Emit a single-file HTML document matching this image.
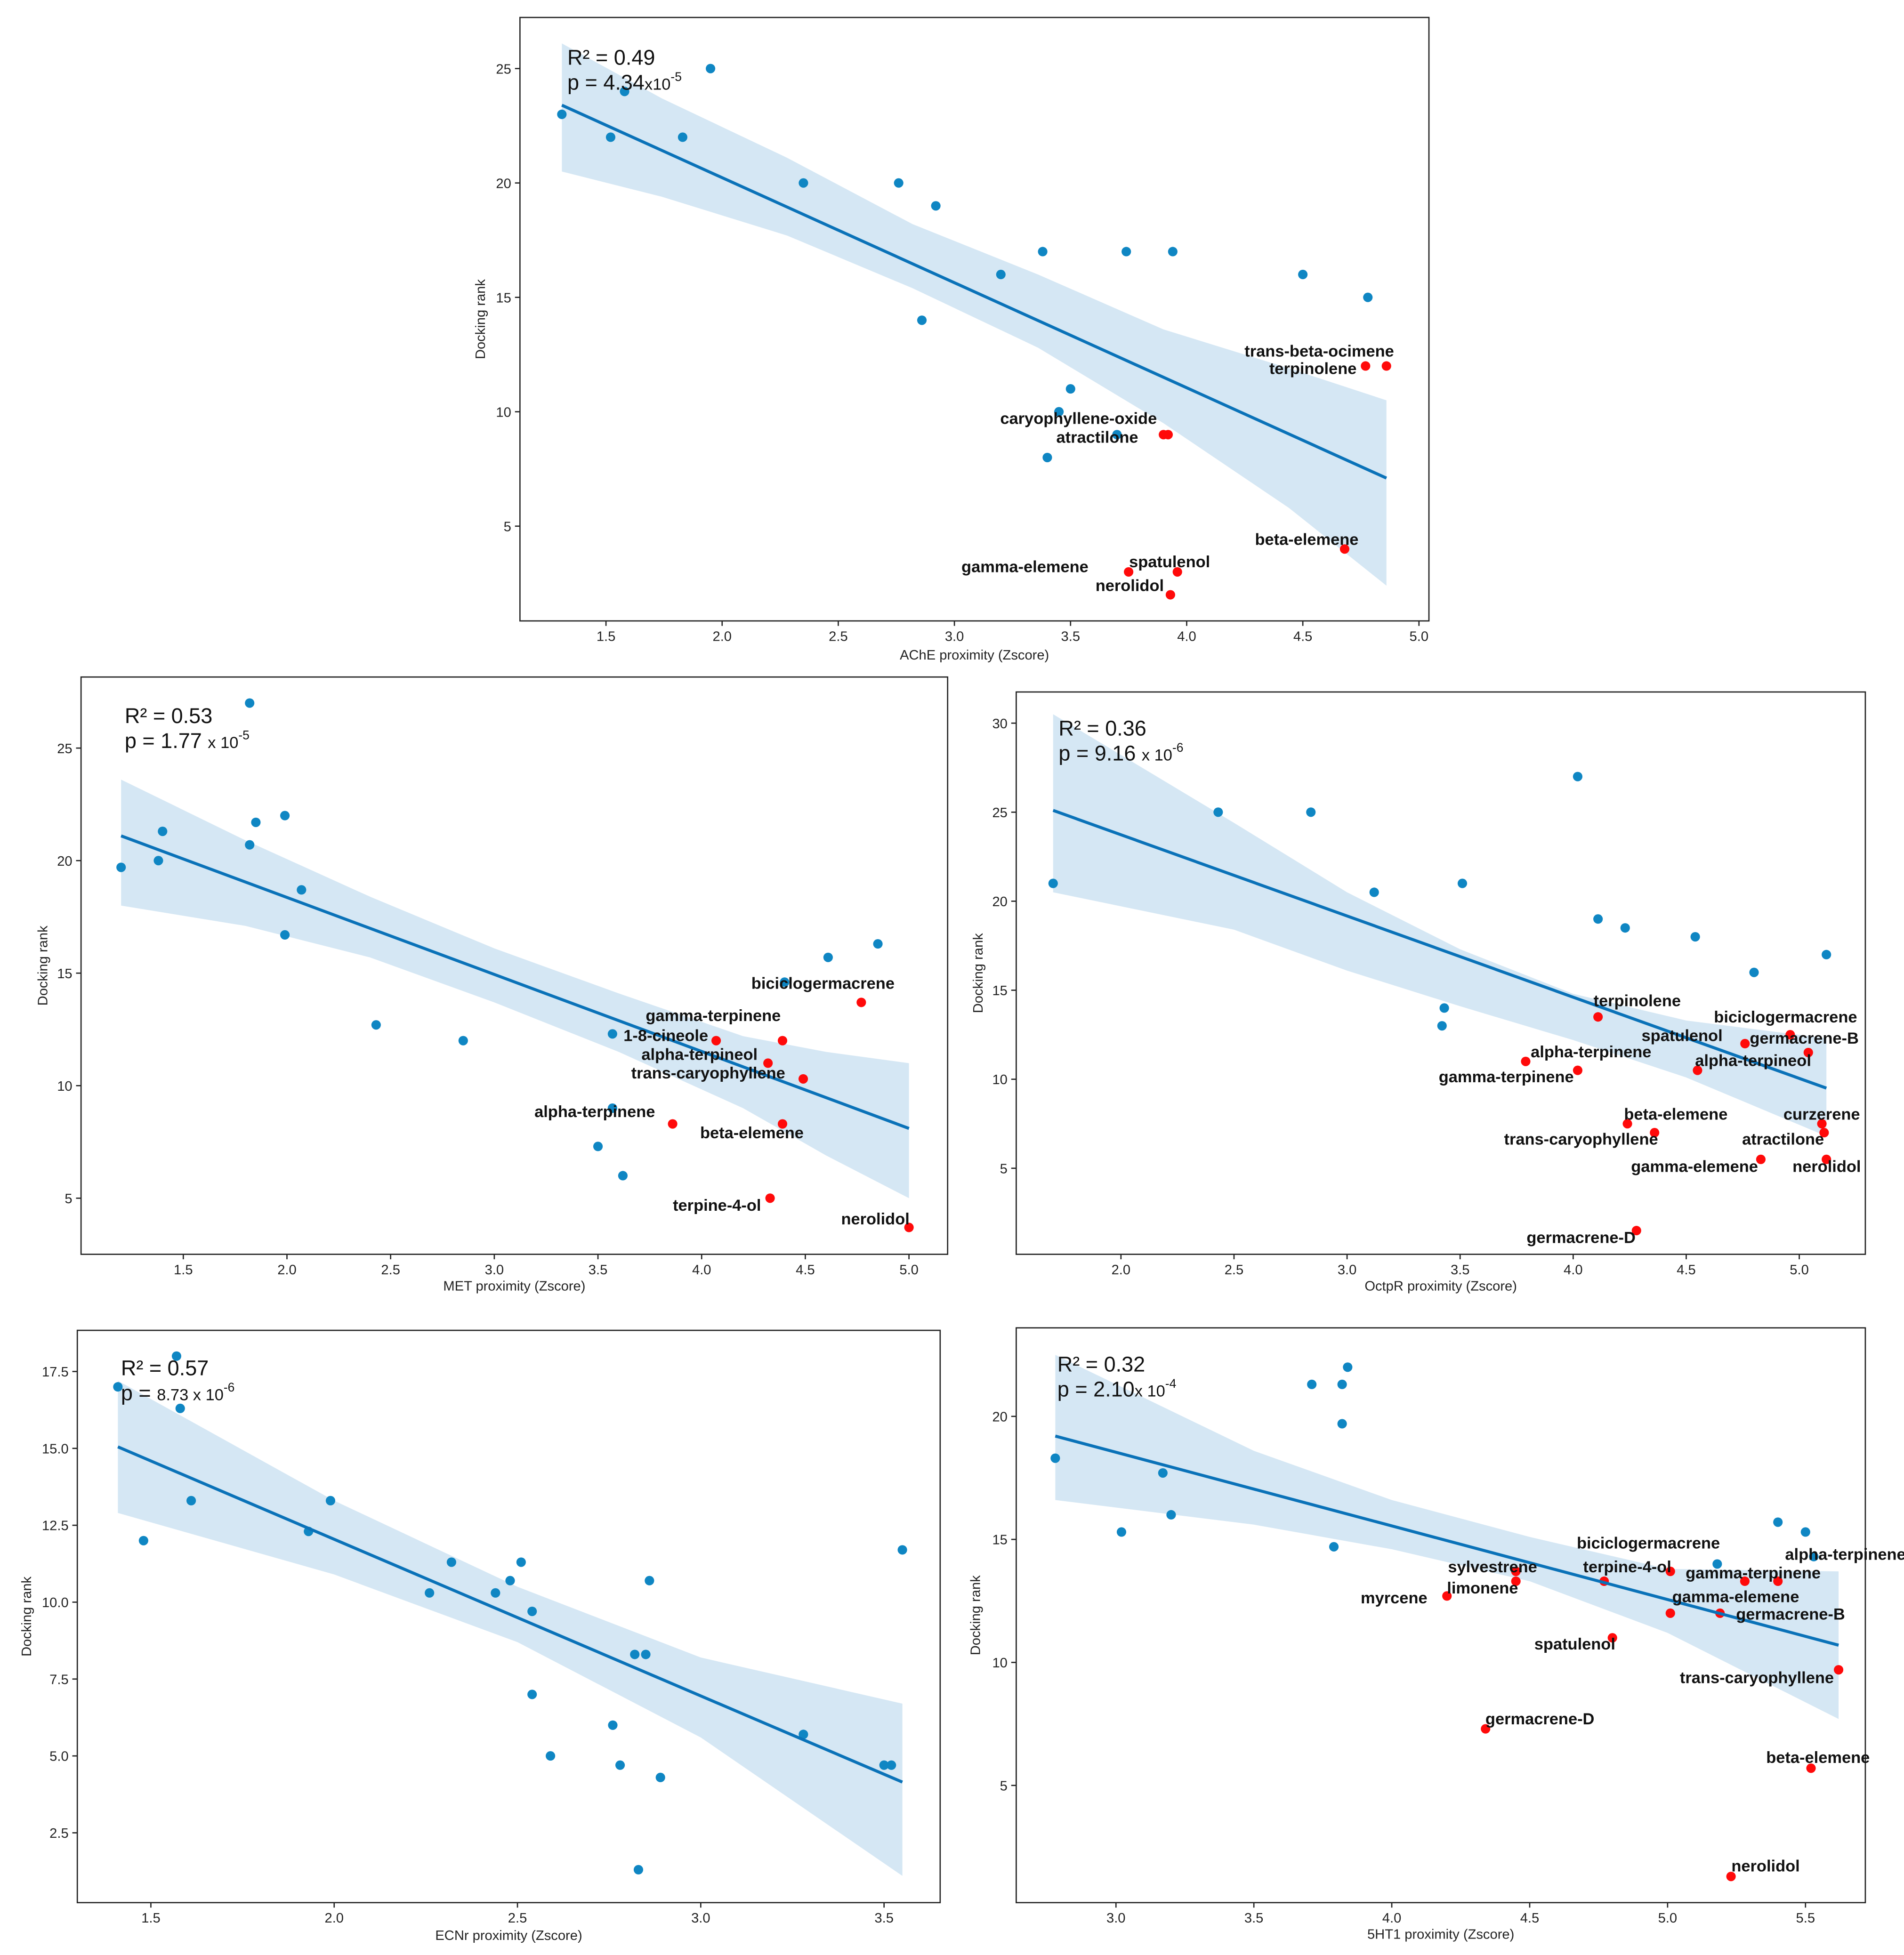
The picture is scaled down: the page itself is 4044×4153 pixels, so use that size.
<!DOCTYPE html>
<html><head><meta charset="utf-8">
<style>
html,body{margin:0;padding:0;background:#fff;}
svg{display:block;}
text{font-family:"Liberation Sans","DejaVu Sans",sans-serif;}
.tick{font-size:11px;fill:#222;}
.axl{font-size:11px;fill:#222;}
.lab{font-size:13px;font-weight:bold;fill:#111;}
.stat{font-size:17px;fill:#111;}
</style></head>
<body>
<svg id="fig" width="4044" height="4153" viewBox="0 0 1527 1568" preserveAspectRatio="none" xmlns="http://www.w3.org/2000/svg"></svg>
<script>
// ---------- Panel 1: AChE ----------
const acheBlueX=[1.31,1.52,1.58,1.83,1.95,2.35,2.76,2.92,2.86,3.20,3.38,3.74,3.94,4.50,4.78,3.50,3.45,3.70,3.40];
const acheBlueY=[23,22,24,22,25,20,20,19,14,16,17,17,17,16,15,11,10,9,8];
const acheRedX=[4.77,4.86,3.90,3.92,4.68,3.75,3.96,3.93];
const acheRedY=[12,12,9,9,4,3,3,2];
const acheFit=[1.31,23.4,4.86,7.1];
const acheBandX=[1.31,1.74,2.28,2.82,3.36,3.90,4.44,4.86];
const acheBandHi=[26.1,23.7,21.1,18.2,16.0,13.6,11.9,10.5];
const acheBandLo=[20.5,19.4,17.7,15.4,12.8,9.5,5.8,2.4];
const acheXTicks=[1.5,2.0,2.5,3.0,3.5,4.0,4.5,5.0];
const acheYTicks=[5,10,15,20,25];
// ---------- Panel 2: MET ----------
const metBlueX=[1.20,1.38,1.40,1.82,1.82,1.85,1.99,1.99,2.07,2.43,2.85,3.57,3.57,3.50,3.62,4.61,4.85,4.40];
const metBlueY=[19.7,20,21.3,27,20.7,21.7,22,16.7,18.7,12.7,12,12.3,9,7.3,6,15.7,16.3,14.6];
const metRedX=[4.77,4.07,4.39,4.32,4.49,3.86,4.39,4.33,5.0];
const metRedY=[13.7,12,12,11,10.3,8.3,8.3,5,3.7];
const metFit=[1.2,21.1,5.0,8.1];
const metBandX=[1.2,1.8,2.4,3.0,3.6,4.2,4.6,5.0];
const metBandHi=[23.6,20.9,18.4,16.1,14.1,12.2,11.5,11.0];
const metBandLo=[18.0,17.1,15.7,13.7,11.5,9.0,6.9,5.0];
const metXTicks=[1.5,2.0,2.5,3.0,3.5,4.0,4.5,5.0];
const metYTicks=[5,10,15,20,25];
// ---------- Panel 3: OctpR ----------
const octBlueX=[1.70,2.43,2.84,3.12,3.51,4.02,4.11,4.23,4.54,4.80,5.12,3.43,3.42];
const octBlueY=[21,25,25,20.5,21,27,19,18.5,18,16,17,14,13];
const octRedX=[4.11,3.79,4.02,4.76,4.96,5.04,4.55,4.24,4.36,5.10,5.11,4.83,5.12,4.28];
const octRedY=[13.5,11,10.5,12,12.5,11.5,10.5,7.5,7,7.5,7,5.5,5.5,1.5];
const octFit=[1.70,25.1,5.12,9.5];
const octBandX=[1.70,2.5,3.0,3.5,4.0,4.5,5.12];
const octBandHi=[30.5,24.4,20.5,17.3,14.8,13.3,12.3];
const octBandLo=[20.5,18.4,16.1,14.1,12.2,10.1,6.8];
const octXTicks=[2.0,2.5,3.0,3.5,4.0,4.5,5.0];
const octYTicks=[5,10,15,20,25,30];
// ---------- Panel 4: ECNr ----------
const ecnBlueX=[1.41,1.57,1.58,1.48,1.61,1.93,1.99,2.26,2.32,2.44,2.48,2.51,2.54,2.54,2.59,2.76,2.78,2.82,2.85,2.86,2.89,2.83,3.28,3.50,3.52,3.55];
const ecnBlueY=[17,18,16.3,12,13.3,12.3,13.3,10.3,11.3,10.3,10.7,11.3,9.7,7,5,6,4.7,8.3,8.3,10.7,4.3,1.3,5.7,4.7,4.7,11.7];
const ecnFit=[1.41,15.05,3.55,4.15];
const ecnBandX=[1.41,2.0,2.5,3.0,3.55];
const ecnBandHi=[17.2,13.3,10.5,8.2,6.7];
const ecnBandLo=[12.9,10.9,8.7,5.6,1.1];
const ecnXTicks=[1.5,2.0,2.5,3.0,3.5];
const ecnYTicks=[2.5,5.0,7.5,10.0,12.5,15.0,17.5];
// ---------- Panel 5: 5HT1 ----------
const htBlueX=[2.78,3.02,3.17,3.20,3.71,3.82,3.84,3.82,3.79,5.18,5.40,5.50,5.53];
const htBlueY=[18.3,15.3,17.7,16,21.3,21.3,22,19.7,14.7,14,15.7,15.3,14.3];
const htRedX=[4.20,4.45,4.45,4.77,5.01,5.28,5.40,5.01,5.19,4.80,5.62,4.34,5.52,5.23];
const htRedY=[12.7,13.7,13.3,13.3,13.7,13.3,13.3,12,12,11,9.7,7.3,5.7,1.3];
const htFit=[2.78,19.2,5.62,10.7];
const htBandX=[2.78,3.5,4.0,4.5,5.0,5.62];
const htBandHi=[22.5,18.6,16.6,15.1,13.8,13.7];
const htBandLo=[16.6,15.6,14.6,13.3,11.2,7.7];
const htXTicks=[3.0,3.5,4.0,4.5,5.0,5.5];
const htYTicks=[5,10,15,20];

const NS="http://www.w3.org/2000/svg";
const fig=document.getElementById('fig');
function mk(tag,attrs,parent){const e=document.createElementNS(NS,tag);for(const k in attrs)e.setAttribute(k,attrs[k]);(parent||fig).appendChild(e);return e;}

const panels=[
 {id:'ache',box:[417,14,1146,498],xa:[1.5,486,5.0,1138],ya:[25,55,5,422],bx:acheBlueX,by:acheBlueY,rx:acheRedX,ry:acheRedY,fit:acheFit,bX:acheBandX,bH:acheBandHi,bL:acheBandLo,xt:acheXTicks,yt:acheYTicks,xlab:'AChE proximity (Zscore)',xly:529,ylx:389,
  r2:'R² = 0.49',p:['p = 4.34','x10','-5'],sx:455,sy:52,
  labels:[['trans-beta-ocimene',1118,286,'end'],['terpinolene',1088,300,'end'],['caryophyllene-oxide',865,340,'middle'],['atractilone',880,355,'middle'],['beta-elemene',1048,437,'middle'],['gamma-elemene',822,459,'middle'],['spatulenol',938,455,'middle'],['nerolidol',906,474,'middle']]},
 {id:'met',box:[65,543,760,1006],xa:[1.5,147,5.0,729],ya:[25,600,5,961],bx:metBlueX,by:metBlueY,rx:metRedX,ry:metRedY,fit:metFit,bX:metBandX,bH:metBandHi,bL:metBandLo,xt:metXTicks,yt:metYTicks,xlab:'MET proximity (Zscore)',xly:1035,ylx:38,
  r2:'R² = 0.53',p:['p = 1.77 ','x 10','-5'],sx:100,sy:580,
  labels:[['biciclogermacrene',660,793,'middle'],['gamma-terpinene',572,819,'middle'],['1-8-cineole',534,835,'middle'],['alpha-terpineol',561,850,'middle'],['trans-caryophyllene',568,865,'middle'],['alpha-terpinene',477,896,'middle'],['beta-elemene',603,913,'middle'],['terpine-4-ol',575,971,'middle'],['nerolidol',702,982,'middle']]},
 {id:'octpr',box:[815,555,1496,1006],xa:[2.0,899,5.0,1443],ya:[30,580,5,937],bx:octBlueX,by:octBlueY,rx:octRedX,ry:octRedY,fit:octFit,bX:octBandX,bH:octBandHi,bL:octBandLo,xt:octXTicks,yt:octYTicks,xlab:'OctpR proximity (Zscore)',xly:1035,ylx:788,
  r2:'R² = 0.36',p:['p = 9.16 ','x 10','-6'],sx:849,sy:590,
  labels:[['terpinolene',1313,807,'middle'],['biciclogermacrene',1432,820,'middle'],['spatulenol',1349,835,'middle'],['germacrene-B',1447,837,'middle'],['alpha-terpinene',1276,848,'middle'],['alpha-terpineol',1406,855,'middle'],['gamma-terpinene',1208,868,'middle'],['beta-elemene',1344,898,'middle'],['curzerene',1461,898,'middle'],['trans-caryophyllene',1268,918,'middle'],['atractilone',1430,918,'middle'],['gamma-elemene',1359,940,'middle'],['nerolidol',1465,940,'middle'],['germacrene-D',1268,997,'middle']]},
 {id:'ecnr',box:[62,1067,754,1526],xa:[1.5,121,3.5,709],ya:[17.5,1100,2.5,1470],bx:ecnBlueX,by:ecnBlueY,rx:[],ry:[],fit:ecnFit,bX:ecnBandX,bH:ecnBandHi,bL:ecnBandLo,xt:ecnXTicks,yt:ecnYTicks,xlab:'ECNr proximity (Zscore)',xly:1556,ylx:25,
  r2:'R² = 0.57',p:['p = ','8.73 x 10','-6'],sx:97,sy:1103,labels:[]},
 {id:'5ht1',box:[815,1065,1496,1526],xa:[3.0,895,5.5,1448],ya:[20,1136,5,1432],bx:htBlueX,by:htBlueY,rx:htRedX,ry:htRedY,fit:htFit,bX:htBandX,bH:htBandHi,bL:htBandLo,xt:htXTicks,yt:htYTicks,xlab:'5HT1 proximity (Zscore)',xly:1555,ylx:786,
  r2:'R² = 0.32',p:['p = 2.10','x 10','-4'],sx:848,sy:1100,
  labels:[['biciclogermacrene',1322,1242,'middle'],['alpha-terpinene',1480,1251,'middle'],['sylvestrene',1197,1261,'middle'],['terpine-4-ol',1305,1261,'middle'],['gamma-terpinene',1406,1266,'middle'],['limonene',1189,1278,'middle'],['myrcene',1118,1286,'middle'],['gamma-elemene',1392,1285,'middle'],['germacrene-B',1436,1299,'middle'],['spatulenol',1263,1323,'middle'],['trans-caryophyllene',1409,1350,'middle'],['germacrene-D',1235,1383,'middle'],['beta-elemene',1458,1414,'middle'],['nerolidol',1416,1501,'middle']]}
];

panels.forEach(P=>{
  const g=mk('g',{});
  
  
  const X=v=>P.xa[1]+(v-P.xa[0])*(P.xa[3]-P.xa[1])/(P.xa[2]-P.xa[0]);
  const Y=v=>P.ya[1]+(v-P.ya[0])*(P.ya[3]-P.ya[1])/(P.ya[2]-P.ya[0]);
  const [x0,y0,x1,y1]=P.box;
  let d='M'+P.bX.map((v,i)=>X(v)+','+Y(P.bH[i])).join(' L');
  for(let i=P.bX.length-1;i>=0;i--) d+=' L'+X(P.bX[i])+','+Y(P.bL[i]);
  const band=mk('path',{d:d+'Z',fill:'#d5e7f4',stroke:'none'},g);
  
  
  P.bx.forEach((v,i)=>{const c=mk('circle',{cx:X(v),cy:Y(P.by[i]),r:3.8,fill:'#0f86c3'},g);
    
    });
  P.rx.forEach((v,i)=>{const c=mk('circle',{cx:X(v),cy:Y(P.ry[i]),r:3.8,fill:'#ff0a0a'},g);
    
    });
  const ln=mk('line',{x1:X(P.fit[0]),y1:Y(P.fit[1]),x2:X(P.fit[2]),y2:Y(P.fit[3]),stroke:'#0a72b8','stroke-width':2.4},g);
  
  
  const fr=mk('rect',{x:x0,y:y0,width:x1-x0,height:y1-y0,fill:'none',stroke:'#222','stroke-width':1},g);
  
  
  P.xt.forEach(v=>{const px=X(v);mk('line',{x1:px,y1:y1,x2:px,y2:y1+4,stroke:'#222'},g);
    const t=mk('text',{x:px,y:y1+16,'text-anchor':'middle',class:'tick'},g);t.textContent=v.toFixed(1);
    
    });
  P.yt.forEach(v=>{const py=Y(v);mk('line',{x1:x0-4,y1:py,x2:x0,y2:py,stroke:'#222'},g);
    const t=mk('text',{x:x0-7,y:py+4,'text-anchor':'end',class:'tick'},g);t.textContent=(Number.isInteger(v)&&P.id!=='ecnr')?String(v):v.toFixed(1);
    
    });
  const xl=mk('text',{x:(x0+x1)/2,y:P.xly,'text-anchor':'middle',class:'axl'},g);xl.textContent=P.xlab;
  
  
  const yl=mk('text',{x:P.ylx,y:(y0+y1)/2,'text-anchor':'middle',class:'axl',transform:`rotate(-90 ${P.ylx} ${(y0+y1)/2})`},g);yl.textContent='Docking rank';
  
  
  const r=mk('text',{x:P.sx,y:P.sy,class:'stat'},g);r.textContent=P.r2;
  
  
  const p=mk('text',{x:P.sx,y:P.sy+20,class:'stat'},g);
  
  
  const s1=mk('tspan',{},p);s1.textContent=P.p[0];
  const s2=mk('tspan',{'font-size':13},p);s2.textContent=P.p[1];
  const s3=mk('tspan',{'font-size':10,dy:-7},p);s3.textContent=P.p[2];
  P.labels.forEach(L=>{const t=mk('text',{x:L[1],y:L[2],'text-anchor':L[3],class:'lab'},g);t.textContent=L[0];
    
    });
});
</script>
</body></html>
